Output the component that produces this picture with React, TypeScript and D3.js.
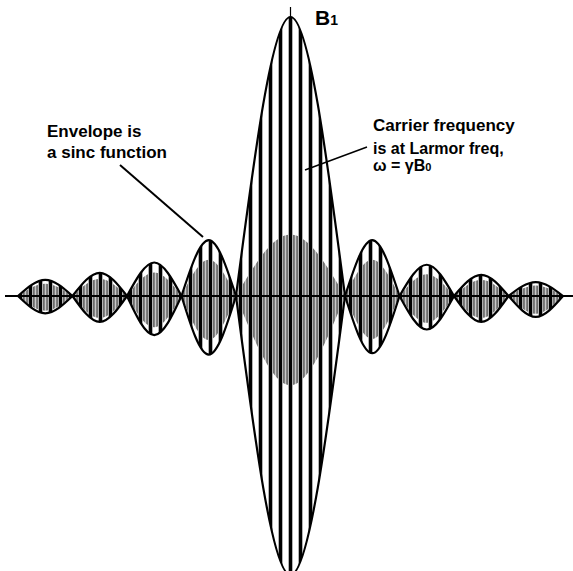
import React from "react";
import * as d3 from "d3";

// lobes of the envelope, in units of the first zero crossing
const lobeStart = [-5, -4, -3, -2, -1, 1, 2, 3, 4];
const lobeEnd = [-4, -3, -2, -1, 1, 2, 3, 4, 5];
// envelope height above / below the axis, relative to the main peak
const lobeTop = [0.058, 0.083, 0.12, 0.2, 1, 0.2, 0.112, 0.076, 0.05];
const lobeBottom = [0.062, 0.093, 0.14, 0.21, 1, 0.205, 0.12, 0.093, 0.075];
// inner (grey) stripes reach this share of the envelope
const grayTop = [0.75, 0.75, 0.7, 0.65, 0.22, 0.65, 0.7, 0.75, 0.75];
const grayBottom = [0.85, 0.85, 0.8, 0.75, 0.32, 0.75, 0.8, 0.85, 0.85];
// carrier period in the same units
const carrierPeriod = 0.1835;

const W = 573;
const H = 571;

type LobePt = { x: number; top: number; bottom: number };

const lobePoints = (i: number, kt: number, kb: number): LobePt[] => [
    { x: lobeStart[i], top: 0, bottom: 0 },
    { x: (lobeStart[i] + lobeEnd[i]) / 2, top: lobeTop[i] * kt, bottom: lobeBottom[i] * kb },
    { x: lobeEnd[i], top: 0, bottom: 0 },
];

export default function App() {
    const xScale = d3.scaleLinear().domain([-5, 5]).range([18, 563]);
    const yScale = d3.scaleLinear().domain([-1, 1]).range([575, 17]);
    const y0 = yScale(0);

    const area = d3.area<LobePt>()
        .x(d => xScale(d.x))
        .y0(d => yScale(-d.bottom))
        .y1(d => yScale(d.top))
        .curve(d3.curveNatural);
    const topLine = d3.line<LobePt>()
        .x(d => xScale(d.x))
        .y(d => yScale(d.top))
        .curve(d3.curveNatural);
    const bottomLine = d3.line<LobePt>()
        .x(d => xScale(d.x))
        .y(d => yScale(-d.bottom))
        .curve(d3.curveNatural);

    const idx = d3.range(lobeStart.length);
    const nCycles = Math.floor(5 / carrierPeriod);
    const blackX = d3.range(-nCycles, nCycles + 1).map(k => k * carrierPeriod);
    const grayX = d3.range(-nCycles, nCycles).map(k => (k + 0.5) * carrierPeriod);

    const font = "'Liberation Sans', Arial, sans-serif";

    return (
        <svg width={W} height={H} style={{ position: "fixed", left: 0, top: 0, background: "#fff" }}>
            <defs>
                <clipPath id="env">
                    {idx.map(i => <path key={i} d={area(lobePoints(i, 1, 1)) ?? ""} />)}
                </clipPath>
                <clipPath id="inner">
                    {idx.map(i => <path key={i} d={area(lobePoints(i, grayTop[i], grayBottom[i])) ?? ""} />)}
                </clipPath>
            </defs>

            <g clipPath="url(#inner)">
                {grayX.map((x, i) => (
                    <rect key={i} x={xScale(x) - 1.6} y={0} width={3.2} height={H}
                        fill="#c8c8c8" stroke="#000" strokeWidth={0.9} />
                ))}
            </g>
            <g clipPath="url(#env)">
                {blackX.map((x, i) => (
                    <rect key={i} x={xScale(x) - 1.8} y={0} width={3.6} height={H} fill="#000" />
                ))}
            </g>

            {idx.map(i => (
                <g key={i} fill="none" stroke="#000" strokeWidth={2.2}>
                    <path d={topLine(lobePoints(i, 1, 1)) ?? ""} />
                    <path d={bottomLine(lobePoints(i, 1, 1)) ?? ""} />
                </g>
            ))}

            <line x1={5} x2={W} y1={y0} y2={y0} stroke="#000" strokeWidth={2} />
            <line x1={xScale(0)} x2={xScale(0)} y1={7} y2={yScale(1) + 2} stroke="#000" strokeWidth={1.2} />

            <line x1={120} y1={165} x2={203} y2={237} stroke="#000" strokeWidth={2} />
            <line x1={367} y1={147} x2={305} y2={170} stroke="#000" strokeWidth={1.5} />

            <text x={315} y={25} fontFamily={font} fontWeight="bold" fontSize={21}>
                B<tspan fontSize={14}>1</tspan>
            </text>

            <g fontFamily={font} fontWeight="bold" fill="#000">
                <text x={47} y={137} fontSize={17}>Envelope is</text>
                <text x={47} y={158} fontSize={17}>a sinc function</text>
                <text x={373} y={131} fontSize={17}>Carrier frequency</text>
                <text x={373} y={154} fontSize={16}>is at Larmor freq,</text>
                <text x={373} y={171} fontSize={16}>ω = γB<tspan fontSize={11}>0</tspan></text>
            </g>
        </svg>
    );
}
